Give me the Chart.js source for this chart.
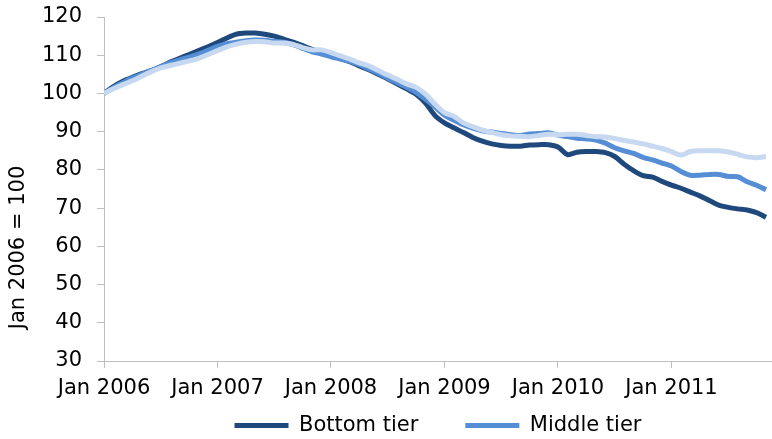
<!DOCTYPE html>
<html>
<head>
<meta charset="utf-8">
<script src="https://cdn.jsdelivr.net/npm/chart.js@4"></script>
<style>
  html, body { margin: 0; padding: 0; background: #fff; }
  #wrap { width: 772px; height: 439px; overflow: hidden; }
</style>
</head>
<body>
<div id="wrap"><canvas id="tiers" width="772" height="446"></canvas></div>
<script>
// monthly index, Jan 2006 = 100 (Jan 2006 .. Nov 2011)
const yearTicks = ['Jan 2006', 'Jan 2007', 'Jan 2008', 'Jan 2009', 'Jan 2010', 'Jan 2011'];
const seriesNames = ['Bottom tier', 'Middle tier', 'Top tier'];
const yTitle = 'Jan 2006 = 100';

const bottomTier = [
  100, 101.8, 103.2, 104.2, 105.2, 106.0, 107.0, 108.2, 109.2, 110.2, 111.2, 112.2,
  113.3, 114.5, 115.5, 115.8, 115.8, 115.5, 115.0, 114.2, 113.4, 112.5, 111.5, 110.8,
  110.0, 109.2, 108.3, 107.2, 106.2, 105.0, 103.8, 102.5, 101.2, 99.8, 97.5, 94.2,
  92.3, 91.0, 89.8, 88.5, 87.5, 86.8, 86.4, 86.2, 86.2, 86.5, 86.6, 86.6,
  86.0, 84.0, 84.6, 84.8, 84.8, 84.5, 83.5, 81.5, 79.8, 78.5, 78.1, 77.0,
  76.0, 75.2, 74.2, 73.2, 72.0, 70.8, 70.2, 69.8, 69.5, 68.8, 67.6
];
const middleTier = [
  100, 101.5, 102.8, 104.0, 105.0, 106.0, 107.0, 108.0, 108.8, 109.5, 110.3, 111.3,
  112.3, 113.0, 113.4, 113.8, 114.0, 113.9, 113.6, 113.4, 112.8, 111.8, 110.9, 110.3,
  109.6, 109.0, 108.4, 107.5, 106.4, 105.3, 104.0, 102.8, 101.6, 100.3, 98.5, 96.5,
  94.3, 93.0, 91.8, 90.9, 90.2, 89.9, 89.5, 89.2, 89.0, 89.4, 89.5, 89.7,
  89.1, 88.7, 88.3, 88.1, 87.8, 87.0, 85.8, 85.0, 84.3, 83.3, 82.6, 81.8,
  81.0, 79.6, 78.6, 78.6, 78.8, 78.8, 78.3, 78.2, 76.9, 76.0, 74.8
];
const topTier = [
  100, 101.2, 102.3, 103.3, 104.5, 105.7, 106.7, 107.3, 107.9, 108.5, 109.2, 110.2,
  111.2, 112.2, 112.9, 113.4, 113.6, 113.5, 113.2, 113.2, 112.8, 112.0, 111.4, 111.4,
  110.7, 109.8, 109.0, 108.0, 107.2, 106.0, 104.8, 103.7, 102.5, 101.6, 99.8, 97.2,
  95.0, 94.0, 92.3, 91.3, 90.4, 89.8, 89.2, 88.9, 88.8, 88.7, 89.0, 89.3,
  89.2, 89.3, 89.3, 89.0, 88.7, 88.6, 88.2, 87.7, 87.3, 86.8, 86.2, 85.6,
  84.8, 83.9, 84.8, 85.0, 85.0, 85.0, 84.7, 84.1, 83.4, 83.2, 83.5
];

const colours = ['#1f497d', '#558ed5', '#c6d9f1'];
const FONT = 'DejaVu Sans';

function toPoints(arr) {
  return arr.map((v, i) => ({ x: i, y: v }));
}

const sets = [bottomTier, middleTier, topTier].map((arr, i) => ({
  label: seriesNames[i],
  data: toPoints(arr),
  borderColor: colours[i],
  backgroundColor: colours[i],
  borderWidth: 5,
  pointRadius: 0,
  tension: 0.3,
  borderJoinStyle: 'round',
  order: 2 - i   // top tier drawn last, on top
}));

// the y title sits lower than the plot's middle in the original,
// so it is drawn here instead of by the scale
const yTitlePlugin = {
  id: 'yTitle',
  afterDraw(chart) {
    const c = chart.ctx;
    c.save();
    c.translate(18.5, 247.5);
    c.rotate(-Math.PI / 2);
    c.font = '21px "' + FONT + '"';
    c.fillStyle = '#000';
    c.textAlign = 'center';
    c.textBaseline = 'middle';
    c.fillText(yTitle, 0, 0);
    c.restore();
  }
};

const ctx = document.getElementById('tiers').getContext('2d');
new Chart(ctx, {
  type: 'line',
  data: { datasets: sets },
  plugins: [yTitlePlugin],
  options: {
    responsive: false,
    animation: false,
    layout: { padding: { top: 17, left: 0, right: 0, bottom: 0 } },
    plugins: {
      tooltip: { enabled: false },
      legend: {
        position: 'bottom',
        fullSize: false,
        labels: {
          font: { family: FONT, size: 21 },
          color: '#000',
          boxWidth: 54,
          boxHeight: 5,
          padding: 47,
          sort: (a, b) => a.datasetIndex - b.datasetIndex,
          filter: item => item.datasetIndex < 2,
          generateLabels: chart => Chart.defaults.plugins.legend.labels.generateLabels(chart)
            .map(it => Object.assign(it, { lineWidth: 0, fillStyle: it.strokeStyle }))
        }
      }
    },
    scales: {
      x: {
        type: 'linear',
        min: 0,
        max: 70.63,
        afterBuildTicks: s => { s.ticks = yearTicks.map((t, i) => ({ value: i * 12 })); },
        // keep the axis box short so the legend sits close under it,
        // and let the labels draw below the box
        afterFit: s => {
          s.height = 7;
          s._computeLabelArea = () => null;
        },
        ticks: {
          font: { family: FONT, size: 21 },
          color: '#000',
          padding: 8,
          maxRotation: 0,
          callback: v => yearTicks[v / 12]
        },
        grid: { drawOnChartArea: false, tickLength: 7, color: '#bfbfbf' },
        border: { color: '#bfbfbf', width: 1 }
      },
      y: {
        min: 30,
        max: 120,
        afterFit: s => {
          s.width = 104;
          s.paddingTop = 0;
        },
        ticks: {
          stepSize: 10,
          font: { family: FONT, size: 21 },
          color: '#000',
          padding: 15
        },
        grid: { drawOnChartArea: false, tickLength: 7, color: '#bfbfbf' },
        border: { color: '#bfbfbf', width: 1 }
      }
    }
  }
});
</script>
</body>
</html>
